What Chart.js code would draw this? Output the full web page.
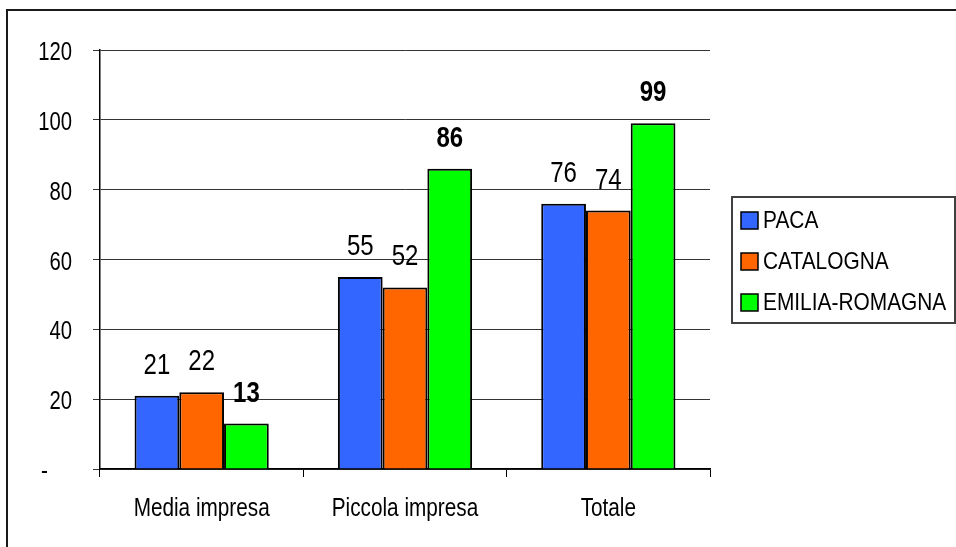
<!DOCTYPE html>
<html>
<head>
<meta charset="utf-8">
<script src="https://cdn.jsdelivr.net/npm/chart.js@4.4.1/dist/chart.umd.min.js"></script>
<style>
  html, body { margin: 0; padding: 0; background: #fff; }
  #wrap { position: relative; width: 956px; height: 547px; }
</style>
</head>
<body>
<div id="wrap"><canvas id="canvas" width="956" height="547"></canvas></div>
<script>
var categories = ['Media impresa', 'Piccola impresa', 'Totale'];
var paca = [21, 55, 76];
var catalogna = [22, 52, 74];
var emilia = [13, 86, 99];
var seriesNames = ['PACA', 'CATALOGNA', 'EMILIA-ROMAGNA'];
var yTicks = [0, 20, 40, 60, 80, 100, 120];

var FONT = "'Liberation Sans Narrow', 'Liberation Sans', Arial, sans-serif";
Chart.defaults.font.family = FONT;
Chart.defaults.color = '#000';

// draws text squeezed sideways, like the narrow font of the original
function narrowText(ctx, txt, x, y, squeeze){
	var w = ctx.measureText(txt).width;
	ctx.fillText(txt, x, y, w * squeeze);
}

// outer frame (only top and left edges are visible in the picture)
var framePlugin = {
	id: 'frame',
	beforeDraw: function(chart){
		var ctx = chart.ctx;
		ctx.save();
		ctx.fillStyle = '#1a1a1a';
		ctx.fillRect(6, 9, 950, 2);
		ctx.fillRect(6, 9, 2, 538);
		ctx.restore();
	}
};

// axis labels
var axisTextPlugin = {
	id: 'axisText',
	afterDraw: function(chart){
		var ctx = chart.ctx;
		var ys = chart.scales.y;
		var xs = chart.scales.x;
		ctx.save();
		ctx.fillStyle = '#000';
		ctx.textBaseline = 'alphabetic';

		ctx.font = '26px ' + FONT;
		ctx.textAlign = 'right';
		ys.ticks.forEach(function(t){
			var y = ys.getPixelForValue(t.value) + 10;
			if (t.value === 0) {
				narrowText(ctx, '-', ys.right - 52, y, 0.8);
			} else {
				narrowText(ctx, String(t.value), ys.right - 28, y, 0.78);
			}
		});

		ctx.font = '25px ' + FONT;
		ctx.textAlign = 'center';
		chart.data.labels.forEach(function(lab, i){
			narrowText(ctx, lab, xs.getPixelForTick(i), xs.top + 47, 0.83);
		});
		ctx.restore();
	}
};

// numbers above the bars
var labelPlugin = {
	id: 'barLabels',
	afterDatasetsDraw: function(chart){
		var ctx = chart.ctx;
		ctx.save();
		ctx.textAlign = 'center';
		ctx.textBaseline = 'alphabetic';
		ctx.fillStyle = '#000';
		chart.data.datasets.forEach(function(ds, di){
			var meta = chart.getDatasetMeta(di);
			ctx.font = (di == 2 ? 'bold ' : '') + '30px ' + FONT;
			meta.data.forEach(function(bar, i){
				narrowText(ctx, String(Math.round(ds.data[i])), bar.x, bar.y - 22, 0.8);
			});
		});
		ctx.restore();
	}
};

// boxed legend on the right
var legendPlugin = {
	id: 'boxLegend',
	afterDraw: function(chart){
		var ctx = chart.ctx;
		ctx.save();
		ctx.strokeStyle = '#404040';
		ctx.lineWidth = 2;
		ctx.strokeRect(732, 197, 223, 126);
		ctx.font = '24px ' + FONT;
		ctx.textBaseline = 'middle';
		ctx.textAlign = 'left';
		chart.data.datasets.forEach(function(ds, i){
			var cy = 220 + i * 41;
			ctx.fillStyle = ds.backgroundColor;
			ctx.fillRect(741, cy - 8, 17, 17);
			ctx.strokeStyle = '#000';
			ctx.lineWidth = 1.5;
			ctx.strokeRect(741, cy - 8, 17, 17);
			ctx.fillStyle = '#000';
			narrowText(ctx, ds.label, 763, cy + 1, 0.87);
		});
		ctx.restore();
	}
};

var ctx = document.getElementById('canvas').getContext('2d');
var chart = new Chart(ctx, {
	type: 'bar',
	data: {
		labels: categories,
		datasets: [{
			label: seriesNames[0],
			data: paca,
			backgroundColor: '#3366ff',
			borderColor: '#000',
			borderWidth: 2
		}, {
			label: seriesNames[1],
			data: catalogna,
			backgroundColor: '#ff6600',
			borderColor: '#000',
			borderWidth: 2
		}, {
			label: seriesNames[2],
			data: emilia,
			backgroundColor: '#00ff00',
			borderColor: '#000',
			borderWidth: 2
		}]
	},
	options: {
		responsive: false,
		animation: false,
		maintainAspectRatio: false,
		layout: {
			padding: { left: 10, right: 246, top: 50, bottom: 8 }
		},
		datasets: {
			bar: { categoryPercentage: 0.66, barPercentage: 1.0 }
		},
		plugins: {
			legend: { display: false },
			tooltip: { enabled: false }
		},
		scales: {
			x: {
				afterFit: function(scale){ scale.height = 70; },
				grid: {
					offset: true,
					drawOnChartArea: false,
					drawTicks: true,
					tickLength: 8,
					color: '#000'
				},
				border: { color: '#000', width: 1.5 },
				ticks: {
					padding: 18,
					color: 'rgba(0,0,0,0)',
					font: { size: 21 }
				}
			},
			y: {
				min: 0,
				max: 120,
				afterFit: function(scale){ scale.width = 90; },
				afterBuildTicks: function(scale){
					scale.ticks = yTicks.map(function(v){ return { value: v }; });
				},
				grid: {
					color: '#333',
					lineWidth: 1,
					drawTicks: true,
					tickLength: 7
				},
				border: { color: '#000', width: 1.5 },
				ticks: {
					padding: 21,
					color: 'rgba(0,0,0,0)',
					font: { size: 21 }
				}
			}
		}
	},
	plugins: [framePlugin, labelPlugin, axisTextPlugin, legendPlugin]
});
</script>
</body>
</html>
